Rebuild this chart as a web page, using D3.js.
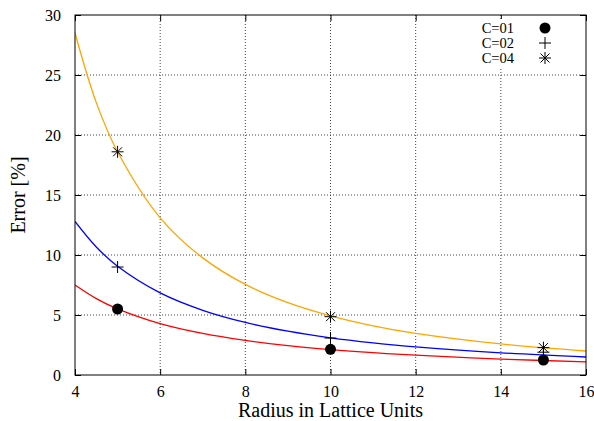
<!DOCTYPE html>
<html>
<head>
<meta charset="utf-8">
<script src="https://cdn.jsdelivr.net/npm/d3@7"></script>
<style>
  body { margin: 0; background: #fff; }
</style>
</head>
<body>
<div id="chart"></div>
<script>
// fitted curves
const curveX = [4, 4.5, 5, 6, 7, 8, 9, 10, 11, 12, 14, 16];
const curveC01 = [7.5, 6.37, 5.51, 4.28, 3.46, 2.88, 2.45, 2.12, 1.86, 1.65, 1.33, 1.1];
const curveC02 = [12.8, 10.67, 9.06, 6.84, 5.39, 4.38, 3.65, 3.1, 2.68, 2.34, 1.85, 1.5];
const curveC04 = [28.5, 22.7, 18.6, 13.1, 9.76, 7.55, 6.03, 4.93, 4.1, 3.47, 2.59, 2.0];

// measured points
const pointX = [5, 10, 15];
const pointsC01 = [5.5, 2.14, 1.25];
const pointsC02 = [9.0, 3.08, 1.9];
const pointsC04 = [18.6, 4.86, 2.28];

const seriesLabels = ["C=01", "C=02", "C=04"];
const curveColors = ["#ff0000", "#0000ff", "#ffa500"];
const xTicks = [4, 6, 8, 10, 12, 14, 16];
const yTicks = [0, 5, 10, 15, 20, 25, 30];

const serif = "'Liberation Serif', 'Times New Roman', 'DejaVu Serif', serif";

var margin = { top: 15, right: 8, bottom: 46, left: 75 },
  width = 594 - margin.left - margin.right,
  height = 421 - margin.top - margin.bottom;

var svg = d3
  .select("#chart")
  .append("svg")
  .attr("width", 594)
  .attr("height", 421)
  .attr("font-family", serif)
  .append("g")
  .attr("transform", "translate(" + margin.left + "," + margin.top + ")");

var x = d3.scaleLinear().domain([4, 16]).range([0, width]);
var y = d3.scaleLinear().domain([0, 30]).range([height, 0]);

// grid
svg
  .selectAll(".gx")
  .data(xTicks.slice(1, -1))
  .enter()
  .append("line")
  .attr("x1", (d) => x(d))
  .attr("x2", (d) => x(d))
  .attr("y1", 0)
  .attr("y2", height)
  .attr("stroke", "#444")
  .attr("stroke-width", 1)
  .attr("stroke-dasharray", "1,2");
svg
  .selectAll(".gy")
  .data(yTicks.slice(1, -1))
  .enter()
  .append("line")
  .attr("x1", 0)
  .attr("x2", width)
  .attr("y1", (d) => y(d))
  .attr("y2", (d) => y(d))
  .attr("stroke", "#444")
  .attr("stroke-width", 1)
  .attr("stroke-dasharray", "1,2");

// axes with inward ticks, mirrored
function styleAxis(g) {
  g.attr("font-family", serif).attr("font-size", 16);
  g.select(".domain").remove();
  g.selectAll("text").attr("fill", "#000").attr("font-family", serif);
}
svg
  .append("g")
  .attr("transform", "translate(0," + height + ")")
  .call(d3.axisBottom(x).tickValues(xTicks).tickSizeInner(-6).tickPadding(11))
  .call(styleAxis);
svg
  .append("g")
  .call(d3.axisLeft(y).tickValues(yTicks).tickSizeInner(-6).tickPadding(14))
  .call(styleAxis);
svg
  .append("g")
  .call(d3.axisTop(x).tickValues(xTicks).tickSizeInner(-6).tickFormat(""))
  .call((g) => g.select(".domain").remove());
svg
  .append("g")
  .attr("transform", "translate(" + width + ",0)")
  .call(d3.axisRight(y).tickValues(yTicks).tickSizeInner(-6).tickFormat(""))
  .call((g) => g.select(".domain").remove());

// clip for curves
svg
  .append("clipPath")
  .attr("id", "clip")
  .append("rect")
  .attr("width", width)
  .attr("height", height);

var line = d3
  .line()
  .x((d) => x(d[0]))
  .y((d) => y(d[1]))
  .curve(d3.curveCatmullRom.alpha(0.5));

[curveC01, curveC02, curveC04].forEach(function (vals, i) {
  svg
    .append("path")
    .datum(curveX.map((cx, j) => [cx, vals[j]]))
    .attr("clip-path", "url(#clip)")
    .attr("fill", "none")
    .attr("stroke", curveColors[i])
    .attr("stroke-width", 1.3)
    .attr("d", line);
});

// markers
function drawMarker(g, kind, cx, cy) {
  if (kind === 0) {
    g.append("circle").attr("cx", cx).attr("cy", cy).attr("r", 5.5).attr("fill", "#000");
  } else {
    var s = 6;
    var segs = [[-s, 0, s, 0], [0, -s, 0, s]];
    if (kind === 2) {
      segs.push([-s * 0.75, -s * 0.75, s * 0.75, s * 0.75]);
      segs.push([-s * 0.75, s * 0.75, s * 0.75, -s * 0.75]);
    }
    segs.forEach(function (sg) {
      g.append("line")
        .attr("x1", cx + sg[0]).attr("y1", cy + sg[1])
        .attr("x2", cx + sg[2]).attr("y2", cy + sg[3])
        .attr("stroke", "#000").attr("stroke-width", 1);
    });
  }
}

[pointsC01, pointsC02, pointsC04].forEach(function (vals, i) {
  var g = svg.append("g");
  vals.forEach(function (v, j) {
    drawMarker(g, i, x(pointX[j]), y(v));
  });
});

// legend
var legend = svg.append("g");
legend
  .append("rect")
  .attr("x", x(13.55))
  .attr("y", 4)
  .attr("width", x(15.8) - x(13.55))
  .attr("height", 50)
  .attr("fill", "#fff");
seriesLabels.forEach(function (lab, i) {
  var ly = 13 + i * 15;
  legend
    .append("text")
    .attr("x", 439)
    .attr("y", ly + 5)
    .attr("text-anchor", "end")
    .attr("font-family", serif)
    .attr("font-size", 14.5)
    .text(lab);
  drawMarker(legend, i, 470, ly);
});

// border
svg
  .append("rect")
  .attr("width", width)
  .attr("height", height)
  .attr("fill", "none")
  .attr("stroke", "#000")
  .attr("stroke-width", 1);

// axis titles
svg
  .append("text")
  .attr("x", width / 2)
  .attr("y", height + 42)
  .attr("text-anchor", "middle")
  .attr("font-family", serif)
  .attr("font-size", 20)
  .text("Radius in Lattice Units");

svg
  .append("text")
  .attr("transform", "translate(-50," + height / 2 + ") rotate(-90)")
  .attr("text-anchor", "middle")
  .attr("font-family", serif)
  .attr("font-size", 20)
  .text("Error [%]");
</script>
</body>
</html>
